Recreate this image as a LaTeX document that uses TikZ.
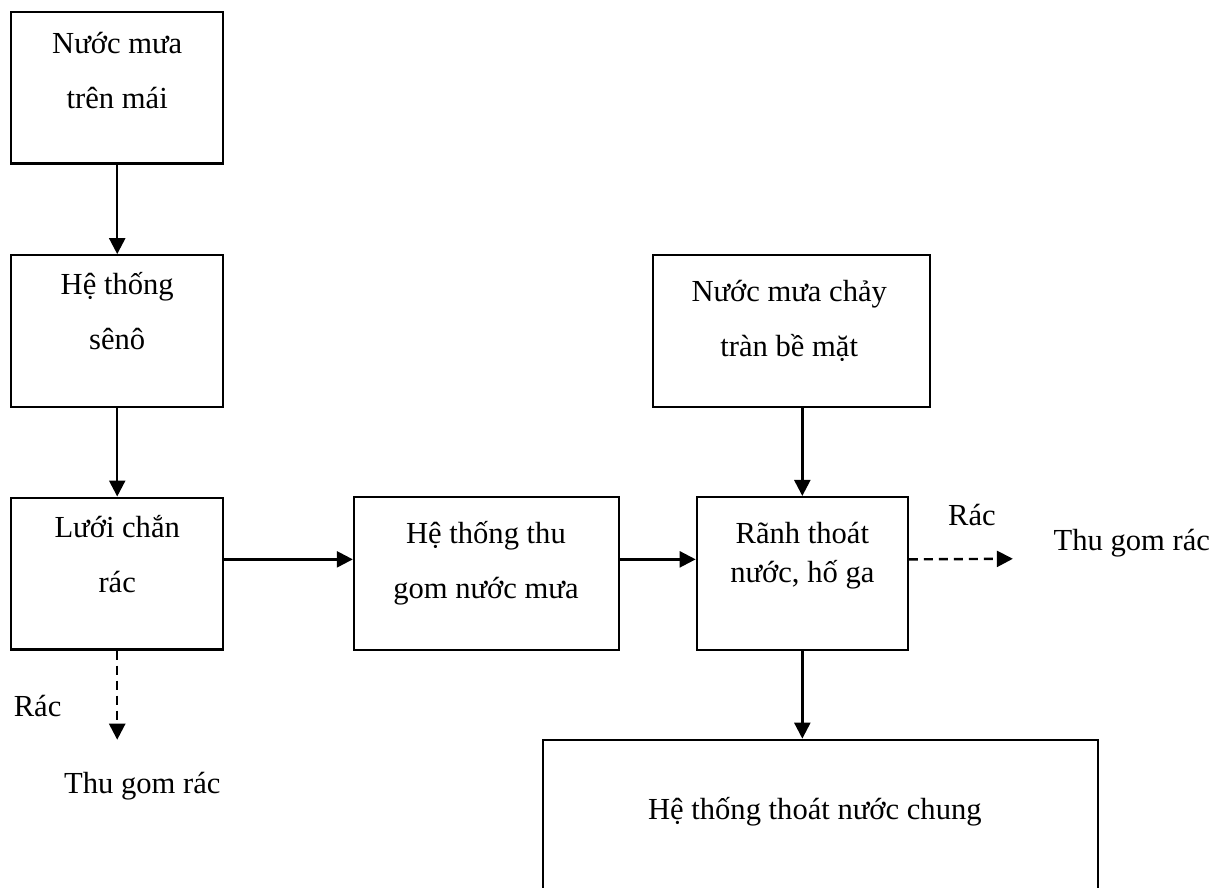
\documentclass[tikz,border=0pt]{standalone}
\usepackage{fontspec}
\setmainfont{Liberation Serif}
\usetikzlibrary{arrows.meta}

\begin{document}
\begin{tikzpicture}[scale=1.0,
rectBox/.style={rectangle, draw=black, line width=1.1pt, fill=white, minimum width=3.73cm, minimum height=2.67cm},
rectWide/.style={rectangle, draw=black, line width=1.1pt, fill=white, minimum width=4.66cm, minimum height=2.69cm},
rectSurface/.style={rectangle, draw=black, line width=1.1pt, fill=white, minimum width=4.87cm, minimum height=2.67cm},
rectNetwork/.style={rectangle, draw=black, line width=1.1pt, fill=white, minimum width=9.75cm, minimum height=3.2cm},
boxText/.style={anchor=base, align=center, inner sep=0pt, font=\fontsize{15.3}{27.5}\selectfont},
tightText/.style={anchor=base, align=center, inner sep=0pt, font=\fontsize{15.3}{19.5}\selectfont},
flow/.style={-{Triangle[length=8pt, width=8pt]}, line width=1.2pt},
waste/.style={-{Triangle[length=8pt, width=8pt]}, line width=1.2pt, dash pattern=on 4.5pt off 3pt}
]

\useasboundingbox (0, 0) rectangle (21.37, -15.59);
\clip (0, 0) rectangle (21.37, -15.59);

\node[rectBox] (RoofRain) at (2.06, -1.54) {};
\node[rectBox] (Gutter) at (2.06, -5.82) {};
\node[rectBox] (Screen) at (2.06, -10.08) {};
\node[rectWide] (Collection) at (8.55, -10.08) {};
\node[rectSurface] (SurfaceRain) at (13.91, -5.82) {};
\node[rectBox, minimum width=3.71cm, minimum height=2.69cm] (Drain) at (14.10, -10.08) {};
\node[rectNetwork] (Network) at (14.42, -14.60) {};

\coordinate (WasteLeft) at (2.06, -13.00);
\coordinate (WasteRight) at (17.80, -9.82);


\node[boxText] (RoofRainText) at (2.06, -1.90) {Nước mưa\\trên mái};
\node[boxText] (GutterText) at (2.06, -6.15) {Hệ thống\\sênô};
\node[boxText] (ScreenText) at (2.06, -10.42) {Lưới chắn\\rác};
\node[boxText] (CollectionText) at (8.54, -10.51) {Hệ thống thu\\gom nước mưa};
\node[boxText] (SurfaceRainText) at (13.87, -6.27) {Nước mưa chảy\\tràn bề mặt};
\node[tightText] (DrainText) at (14.10, -10.23) {Rãnh thoát\\nước, hố ga};
\node[boxText] (NetworkText) at (14.32, -14.41) {Hệ thống thoát nước chung};

\node[boxText] (WasteLeftLabel) at (0.66, -12.60) {Rác};
\node[boxText] (BinLeft) at (2.50, -13.94) {Thu gom rác};
\node[boxText] (WasteRightLabel) at (17.08, -9.23) {Rác};
\node[boxText] (BinRight) at (19.89, -9.67) {Thu gom rác};



\path[flow] (RoofRain) edge node {} (Gutter)
			(Gutter) edge node {} (Screen)
			([yshift=0.25cm]Screen.east) edge node {} ([yshift=0.25cm]Collection.west)
			([yshift=0.25cm]Collection.east) edge node {} ([yshift=0.25cm]Drain.west)
			(Drain.north |- SurfaceRain.south) edge node {} (Drain.north)
			(Drain.south) edge node {} (Drain.south |- Network.north);

\path[waste] (Screen.south) edge node {} (WasteLeft)
			([yshift=0.25cm]Drain.east) edge node {} (WasteRight);



\end{tikzpicture}
\end{document}
